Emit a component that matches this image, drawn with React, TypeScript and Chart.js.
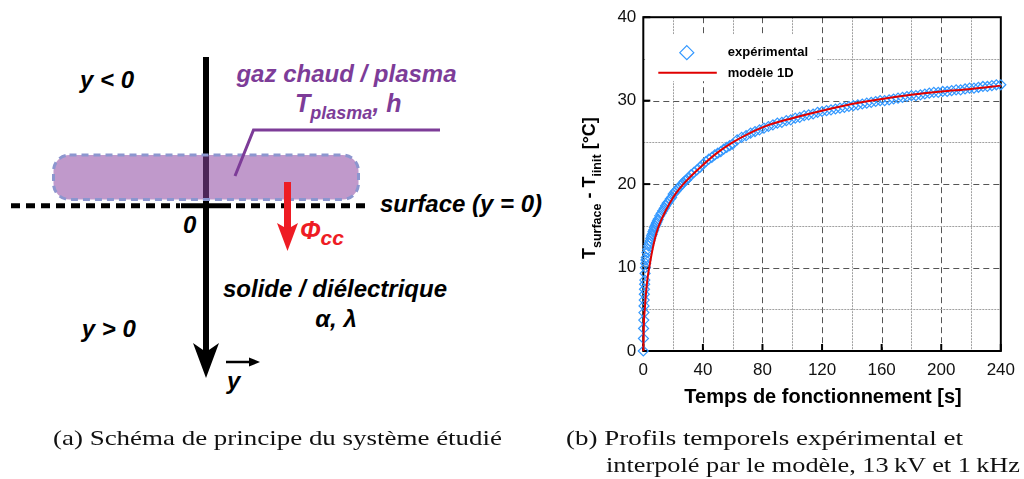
import React, { useEffect, useRef } from 'react';
import { Chart, registerables } from 'chart.js';

Chart.register(...registerables);

// ---------- data ----------
const expTime = [
  0, 0.1, 0.2, 0.3, 0.4, 0.5, 0.6, 0.7, 0.8, 0.9, 1.0, 1.2, 1.4, 1.6, 1.8, 2.0,
  2.5, 3.0, 3.5, 4.0, 4.5, 5.0, 5.5, 6.0, 6.5, 7.0, 7.5, 8.0, 8.5, 9.0, 9.5, 10,
  11, 12, 13, 14, 15, 16, 17, 18, 19, 20, 21, 22, 23, 24, 25, 26, 27, 28, 29, 30,
  32, 34, 36, 38, 40, 42, 44, 46, 48, 50, 52, 54, 56, 58, 60,
  63, 66, 69, 72, 75, 78, 81, 84, 87, 90, 93, 96, 99, 102, 105, 108, 111, 114, 117, 120,
  123, 126, 129, 132, 135, 138, 141, 144, 147, 150, 153, 156, 159, 162, 165, 168, 171, 174, 177, 180,
  183, 186, 189, 192, 195, 198, 201, 204, 207, 210, 213, 216, 219, 222, 225, 228, 231, 234, 237, 240,
];
const expTemp = [
  0, 1.5, 2.7, 3.7, 4.6, 5.4, 6.1, 6.8, 7.4, 8.0, 8.5, 9.3, 10.0, 10.5, 10.9, 11.2,
  11.8, 12.2, 12.6, 12.9, 13.2, 13.5, 13.8, 14.0, 14.3, 14.5, 14.8, 15.0, 15.2, 15.4, 15.6, 15.8,
  16.2, 16.5, 16.8, 17.1, 17.4, 17.7, 17.9, 18.2, 18.4, 18.8, 19.0, 19.2, 19.4, 19.6, 19.8, 20.0, 20.2, 20.4, 20.5, 20.7,
  21.1, 21.4, 21.7, 22.0, 22.4, 22.7, 23.0, 23.2, 23.5, 23.7, 23.9, 24.2, 24.4, 24.6, 24.8,
  25.3, 25.6, 25.8, 26.1, 26.3, 26.5, 26.7, 26.9, 27.1, 27.3, 27.4, 27.6, 27.7, 27.9, 28.0, 28.2, 28.3, 28.4, 28.6, 28.7,
  28.8, 28.9, 29.0, 29.1, 29.2, 29.3, 29.4, 29.5, 29.6, 29.7, 29.8, 29.9, 30.0, 30.0, 30.1, 30.2, 30.3, 30.4, 30.5, 30.6,
  30.6, 30.7, 30.8, 30.9, 31.0, 31.0, 31.1, 31.1, 31.2, 31.3, 31.3, 31.4, 31.5, 31.5, 31.6, 31.7, 31.7, 31.8, 31.9, 31.9,
];
const modelTime = [0, 0.25, 0.5, 1, 2, 3, 4, 6, 8, 10, 15, 20, 25, 30, 40, 50, 60, 80, 100, 120, 140, 160, 180, 200, 220, 240];
const modelTemp = [0, 2.5, 3.8, 5.0, 7.3, 8.9, 10.0, 12.0, 13.6, 14.8, 16.8, 18.4, 19.6, 20.6, 22.3, 23.8, 25.0, 26.8, 27.9, 28.8, 29.6, 30.2, 30.7, 31.1, 31.4, 31.8];

const seriesLabels = ['expérimental', 'modèle 1D'];
const xTickValues = [0, 40, 80, 120, 160, 200, 240];
const yTickValues = [0, 10, 20, 30, 40];
const xGridValues = [20, 40, 60, 80, 100, 120, 140, 160, 180, 200, 220];
const yGridValues = [5, 10, 15, 20, 25, 30, 35];
const xAxisTitle = 'Temps de fonctionnement [s]';
const yTitleParts: [string, boolean][] = [['T', false], ['surface', true], [' - T', false], ['iinit', true], [' [°C]', false]];

const captionA = '(a) Schéma de principe du système étudié';
const captionB1 = '(b) Profils temporels expérimental et';
const captionB2 = 'interpolé par le modèle, 13\u2009kV et 1\u2009kHz';

const SANS = "'Liberation Sans', Arial, sans-serif";
const EXP_COLOR = '#3398ff';
const MODEL_COLOR = '#e00000';

const framePlugin = {
  id: 'frame',
  beforeDatasetsDraw(chart: any) {
    const { ctx, chartArea: a, scales } = chart;
    const x = scales.x;
    const y = scales.y;
    ctx.save();
    ctx.lineWidth = 1;
    for (const v of xGridValues) {
      const px = Math.round(x.getPixelForValue(v)) + 0.5;
      const major = v % 40 === 0;
      ctx.strokeStyle = major ? '#555' : '#a0a0a0';
      ctx.setLineDash(major ? [6, 4] : [2, 1]);
      ctx.beginPath();
      ctx.moveTo(px, a.top);
      ctx.lineTo(px, a.bottom);
      ctx.stroke();
    }
    for (const v of yGridValues) {
      const py = Math.round(y.getPixelForValue(v)) + 0.5;
      const major = v % 10 === 0;
      ctx.strokeStyle = major ? '#555' : '#a0a0a0';
      ctx.setLineDash(major ? [6, 4] : [2, 1]);
      ctx.beginPath();
      ctx.moveTo(a.left, py);
      ctx.lineTo(a.right, py);
      ctx.stroke();
    }
    ctx.setLineDash([]);
    // legend background
    ctx.fillStyle = '#fff';
    ctx.fillRect(a.left + 2, a.top + 17, 172, 47);
    // frame
    ctx.strokeStyle = '#000';
    ctx.lineWidth = 2;
    ctx.strokeRect(a.left, a.top, a.right - a.left, a.bottom - a.top);
    // inward ticks
    for (const v of xTickValues) {
      const px = x.getPixelForValue(v);
      ctx.beginPath();
      ctx.moveTo(px, a.bottom);
      ctx.lineTo(px, a.bottom - 7);
      ctx.stroke();
    }
    for (const v of yTickValues) {
      const py = y.getPixelForValue(v);
      ctx.beginPath();
      ctx.moveTo(a.left, py);
      ctx.lineTo(a.left + 7, py);
      ctx.stroke();
    }
    // legend entries
    const ds = chart.data.datasets;
    const expDs = ds.find((d: any) => d.label === seriesLabels[0]);
    const modDs = ds.find((d: any) => d.label === seriesLabels[1]);
    const cx = a.left + 43.5;
    const cy = a.top + 35.5;
    const r = 7;
    ctx.strokeStyle = expDs.borderColor;
    ctx.lineWidth = 1.2;
    ctx.beginPath();
    ctx.moveTo(cx, cy - r);
    ctx.lineTo(cx + r, cy);
    ctx.lineTo(cx, cy + r);
    ctx.lineTo(cx - r, cy);
    ctx.closePath();
    ctx.stroke();
    ctx.strokeStyle = modDs.borderColor;
    ctx.lineWidth = 2;
    ctx.beginPath();
    ctx.moveTo(a.left + 15, a.top + 55.5);
    ctx.lineTo(a.left + 73.5, a.top + 55.5);
    ctx.stroke();
    ctx.fillStyle = '#000';
    ctx.font = `bold 13px ${SANS}`;
    ctx.textAlign = 'left';
    ctx.textBaseline = 'alphabetic';
    ctx.fillText(expDs.label, a.left + 84.5, a.top + 38.5);
    ctx.fillText(modDs.label, a.left + 84.5, a.top + 59.5);
    ctx.restore();
  },
  afterDraw(chart: any) {
    const { ctx, chartArea: a } = chart;
    ctx.save();
    ctx.fillStyle = '#000';
    ctx.textBaseline = 'alphabetic';
    // x title
    ctx.font = `bold 20px ${SANS}`;
    ctx.textAlign = 'center';
    ctx.fillText(xAxisTitle, (a.left + a.right) / 2 + 1, 403);
    // y title with subscripts
    const mainFont = `bold 18px ${SANS}`;
    const subFont = `bold 12.5px ${SANS}`;
    let total = 0;
    for (const [t, sub] of yTitleParts) {
      ctx.font = sub ? subFont : mainFont;
      total += ctx.measureText(t).width;
    }
    ctx.translate(34.7, (a.top + a.bottom) / 2 + 4);
    ctx.rotate(-Math.PI / 2);
    ctx.textAlign = 'left';
    let pos = -total / 2;
    for (const [t, sub] of yTitleParts) {
      ctx.font = sub ? subFont : mainFont;
      ctx.fillText(t, pos, sub ? 6 : 0);
      pos += ctx.measureText(t).width;
    }
    ctx.restore();
  },
};

function TemperatureChart() {
  const ref = useRef<HTMLCanvasElement | null>(null);
  useEffect(() => {
    if (!ref.current) return;
    const expPoints = expTime.map((t, i) => ({ x: t, y: expTemp[i] }));
    const modelPoints = modelTime.map((t, i) => ({ x: t, y: modelTemp[i] }));
    const chart = new Chart(ref.current, {
      type: 'scatter',
      data: {
        datasets: [
          {
            label: seriesLabels[1],
            data: modelPoints,
            showLine: true,
            borderColor: MODEL_COLOR,
            backgroundColor: MODEL_COLOR,
            borderWidth: 2,
            pointRadius: 0,
            pointHoverRadius: 0,
            cubicInterpolationMode: 'monotone',
            fill: false,
            clip: false,
          } as any,
          {
            label: seriesLabels[0],
            data: expPoints,
            showLine: false,
            pointStyle: 'rectRot',
            pointRadius: 5,
            pointHoverRadius: 5,
            borderColor: EXP_COLOR,
            backgroundColor: 'rgba(0,0,0,0)',
            borderWidth: 1.2,
            clip: false,
          } as any,
        ],
      },
      options: {
        animation: false,
        responsive: false,
        events: [],
        layout: { padding: { top: 15.5, right: 19.7, left: 0, bottom: 0 } },
        plugins: { legend: { display: false }, tooltip: { enabled: false }, title: { display: false } },
        scales: {
          x: {
            type: 'linear',
            min: 0,
            max: 240,
            afterBuildTicks: (s: any) => {
              s.ticks = xTickValues.map((v) => ({ value: v }));
            },
            afterFit: (s: any) => {
              s.height = 64;
            },
            grid: { display: false, drawTicks: false },
            border: { display: false },
            ticks: {
              font: { family: SANS, size: 17 },
              color: '#111',
              padding: 9,
              maxRotation: 0,
              autoSkip: false,
            },
          },
          y: {
            type: 'linear',
            min: 0,
            max: 40,
            afterBuildTicks: (s: any) => {
              s.ticks = yTickValues.map((v) => ({ value: v }));
            },
            afterFit: (s: any) => {
              s.width = 83.3;
            },
            grid: { display: false, drawTicks: false },
            border: { display: false },
            ticks: {
              font: { family: SANS, size: 17 },
              color: '#111',
              padding: 7,
              autoSkip: false,
            },
          },
        },
      } as any,
      plugins: [framePlugin],
    });
    return () => chart.destroy();
  }, []);
  return (
    <canvas
      ref={ref}
      width={464}
      height={415}
      style={{ position: 'absolute', left: 560, top: 0, width: 464, height: 415 }}
    />
  );
}

function Schematic() {
  const bi = { fontFamily: SANS, fontWeight: 'bold' as const, fontStyle: 'italic' as const };
  const purple = '#7d3c98';
  return (
    <svg width={560} height={479} style={{ position: 'absolute', left: 0, top: 0 }}>
      {/* vertical axis */}
      <line x1={206} y1={57} x2={206} y2={352} stroke="#000" strokeWidth={6} />
      <polygon points="193,343 206,352 219,343 206,378" fill="#000" />
      {/* plasma region */}
      <rect
        x={53.5}
        y={155}
        width={305}
        height={44.5}
        rx={16}
        ry={16}
        fill="rgba(140,70,160,0.55)"
        stroke="#8c96cf"
        strokeWidth={3}
        strokeDasharray="7 5"
      />
      {/* leader */}
      <polyline points="235,176 253.5,130 440,130" fill="none" stroke={purple} strokeWidth={3} />
      {/* surface line */}
      <line x1={11} y1={205.8} x2={180} y2={205.8} stroke="#000" strokeWidth={5} strokeDasharray="9 6" />
      <line x1={181} y1={205.8} x2={231} y2={205.8} stroke="#000" strokeWidth={5} />
      <line x1={236} y1={205.8} x2={368} y2={205.8} stroke="#000" strokeWidth={5} strokeDasharray="9 6" />
      {/* flux arrow */}
      <line x1={287.5} y1={182} x2={287.5} y2={230} stroke="#ee1c24" strokeWidth={7} />
      <polygon points="277,223 287.5,229 298,223 287.5,251" fill="#ee1c24" />
      {/* vector y arrow */}
      <line x1={226} y1={362} x2={252} y2={362} stroke="#000" strokeWidth={2.5} />
      <polygon points="249,357.5 260,362 249,366.5" fill="#000" />

      <text x={80} y={88.3} fontSize={24} {...bi} fill="#000">y &lt; 0</text>
      <text x={346.5} y={81.7} fontSize={24} {...bi} fill={purple} textAnchor="middle">gaz chaud / plasma</text>
      <text x={348.3} y={111.7} fontSize={25} {...bi} fill={purple} textAnchor="middle">
        T<tspan fontSize={18} dy={7}>plasma</tspan><tspan dy={-7}>, h</tspan>
      </text>
      <text x={380} y={212} fontSize={24} {...bi} fill="#000">surface (y = 0)</text>
      <text x={183} y={232.7} fontSize={24} {...bi} fill="#000">0</text>
      <text x={300} y={239} fontSize={25} {...bi} fill="#ee1c24">
        Φ<tspan fontSize={21} dy={6}>cc</tspan>
      </text>
      <text x={335} y={296.7} fontSize={24} {...bi} fill="#000" textAnchor="middle">solide / diélectrique</text>
      <text x={336} y={326.7} fontSize={24} {...bi} fill="#000" textAnchor="middle">α, λ</text>
      <text x={81.7} y={336.7} fontSize={24} {...bi} fill="#000">y &gt; 0</text>
      <text x={227} y={389} fontSize={24} {...bi} fill="#000">y</text>
    </svg>
  );
}

function Captions() {
  const serif = "'Liberation Serif', 'Times New Roman', serif";
  return (
    <svg width={1024} height={479} style={{ position: 'absolute', left: 0, top: 0, pointerEvents: 'none' }}>
      <text x={53} y={445} fontFamily={serif} fontSize={22} fill="#111" textLength={449} lengthAdjust="spacingAndGlyphs">
        {captionA}
      </text>
      <text x={566} y={445} fontFamily={serif} fontSize={22} fill="#111" textLength={397} lengthAdjust="spacingAndGlyphs">
        {captionB1}
      </text>
      <text x={606} y={472} fontFamily={serif} fontSize={22} fill="#111" textLength={414} lengthAdjust="spacingAndGlyphs">
        {captionB2}
      </text>
    </svg>
  );
}

export default function App() {
  return (
    <div style={{ position: 'absolute', left: 0, top: 0, width: 1024, height: 479, background: '#fff', overflow: 'hidden' }}>
      <Schematic />
      <TemperatureChart />
      <Captions />
    </div>
  );
}
